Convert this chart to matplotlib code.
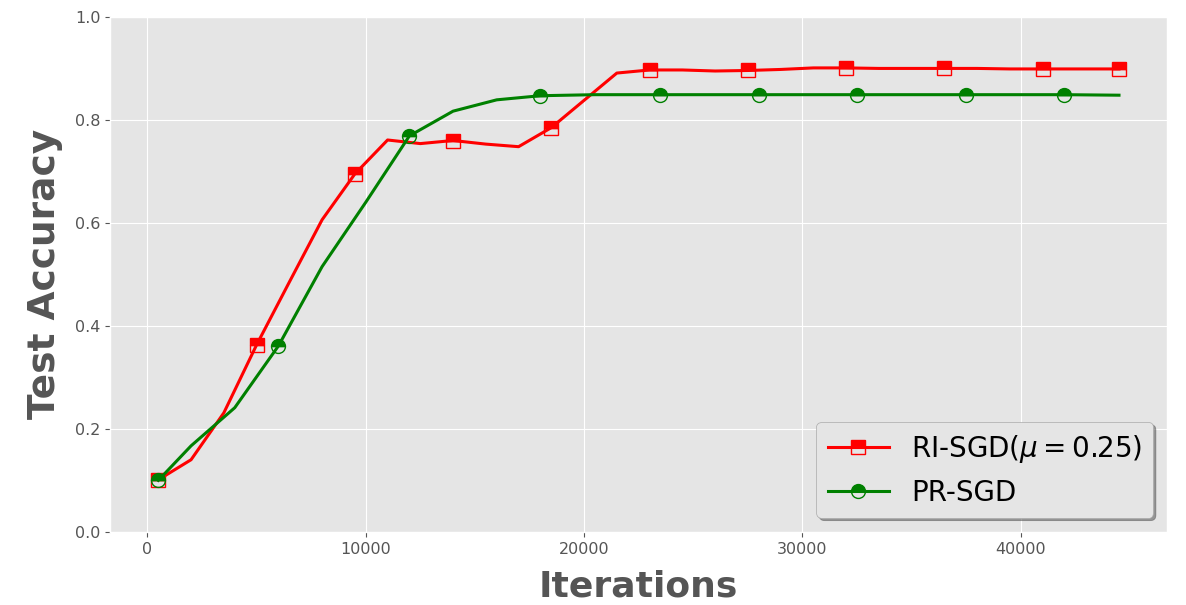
import matplotlib
matplotlib.use("Agg")
import matplotlib.pyplot as plt

# RI-SGD (mu = 0.25)
ri_iters = [500, 2000, 3500, 5000, 6500, 8000, 9500, 11000, 12500, 14000, 15500, 17000,
            18500, 20000, 21500, 23000, 24500, 26000, 27500, 29000, 30500, 32000, 33500,
            35000, 36500, 38000, 39500, 41000, 42500, 44500]
ri_acc = [0.101, 0.140, 0.231, 0.363, 0.485, 0.606, 0.695, 0.761, 0.754, 0.760, 0.753, 0.748,
          0.785, 0.838, 0.891, 0.897, 0.897, 0.895, 0.896, 0.898, 0.901, 0.901, 0.900,
          0.900, 0.900, 0.900, 0.899, 0.899, 0.899, 0.899]
ri_marks = [0, 3, 6, 9, 12, 15, 18, 21, 24, 27, 29]

# PR-SGD
pr_iters = [500, 2000, 4000, 6000, 8000, 10000, 12000, 14000, 16000, 18000, 20500, 23500,
            28000, 32500, 37500, 42000, 44500]
pr_acc = [0.100, 0.167, 0.241, 0.361, 0.515, 0.640, 0.769, 0.817, 0.839, 0.847, 0.849, 0.849,
          0.849, 0.849, 0.849, 0.849, 0.848]
pr_marks = [0, 3, 6, 9, 11, 12, 13, 14, 15]

plt.style.use("ggplot")
fig, ax = plt.subplots(figsize=(11.86, 6.05), dpi=100)
fig.subplots_adjust(left=0.093, right=0.984, top=0.972, bottom=0.121)

ax.plot(ri_iters, ri_acc, color="red", lw=2.2, marker="s", markersize=10,
        fillstyle="top", markerfacecoloralt="none", markeredgecolor="red",
        markevery=ri_marks, label=r"RI-SGD($\mu=0.25$)")
ax.plot(pr_iters, pr_acc, color="green", lw=2.2, marker="o", markersize=10,
        fillstyle="top", markerfacecoloralt="none", markeredgecolor="green",
        markevery=pr_marks, label="PR-SGD")

ax.set_ylim(0, 1.0)
ax.set_xlabel("Iterations", fontsize=26, fontweight="bold", color="#555555", labelpad=9)
ax.set_ylabel("Test Accuracy", fontsize=27, fontweight="bold", color="#555555", labelpad=9)
ax.tick_params(labelsize=11.5, colors="#555555")

leg = ax.legend(loc="lower right", fontsize=20, shadow=True, fancybox=True,
                frameon=True, borderpad=0.4, handlelength=2.2)
leg.get_frame().set_facecolor("#e5e5e5")
leg.get_frame().set_edgecolor("#aaaaaa")
for t in leg.get_texts():
    t.set_color("black")

fig.savefig("out.png", dpi=100)
